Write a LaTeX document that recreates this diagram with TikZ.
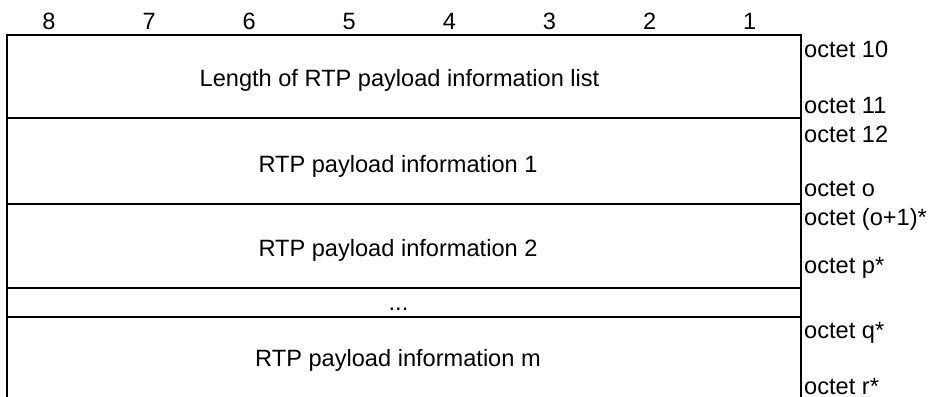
\documentclass[tikz,border=0pt]{standalone}
\usepackage{fontspec}
\setmainfont{Liberation Sans}
\begin{document}
\begin{tikzpicture}[x=1pt,y=-1pt,
  rule/.style={line width=2pt,line cap=rect},
  txt/.style={inner sep=0pt,anchor=base,font=\fontsize{23.6}{28}\selectfont},
  oct/.style={inner sep=0pt,anchor=base west,font=\fontsize{23.6}{28}\selectfont}]
\useasboundingbox (0,0) rectangle (931,396);
% frame
\coordinate (tl) at (7,35);
\coordinate (tr) at (801,35);
\coordinate (bl) at (7,396);
\coordinate (br) at (801,396);
\draw[rule] (bl) -- (tl) -- (tr) -- (br);
\foreach \yy in {118,204,288,317} \draw[rule] (7,\yy) -- (801,\yy);
% bit numbers
\foreach \b [count=\i from 0] in {8,7,6,5,4,3,2,1}
  \node[txt] (bit\b) at (49+100.1*\i,30) {\b};
% field texts
\node[txt] (f1) at (399.5,86) {Length of RTP payload information list};
\node[txt] (f2) at (398,172) {RTP payload information 1};
\node[txt] (f3) at (398,256) {RTP payload information 2};
\node[txt] (f4) at (398.5,310) {...};
\node[txt] (f5) at (398,366) {RTP payload information m};
% octet labels
\node[oct] (o10) at (804,58) {octet 10};
\node[oct] (o11) at (804,113) {octet 11};
\node[oct] (o12) at (804,142) {octet 12};
\node[oct] (oo) at (804,196) {octet o};
\node[oct] (oo1) at (804,225) {octet (o+1)*};
\node[oct] (op) at (804,273) {octet p*};
\node[oct] (oq) at (804,338) {octet q*};
\node[oct] (or) at (804,394) {octet r*};
\end{tikzpicture}
\end{document}
